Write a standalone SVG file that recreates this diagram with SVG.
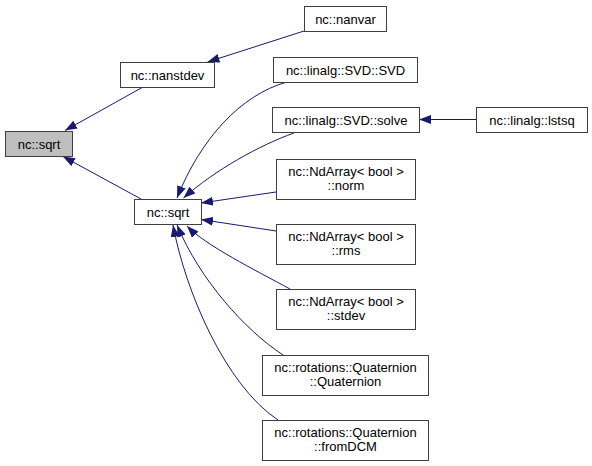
<svg xmlns="http://www.w3.org/2000/svg" width="592" height="466" viewBox="0 0 592 466">
<style>
.n rect{fill:#ffffff;stroke:#3f3f3f;stroke-width:1}
.n.cur rect{fill:#bfbfbf}
.n text{font-family:"Liberation Sans",Arial,sans-serif;font-size:13px;fill:#000000;text-anchor:middle}
.e path{fill:none;stroke:#191970;stroke-width:1;marker-end:url(#arr)}
</style>
<defs>
<marker id="arr" markerUnits="userSpaceOnUse" markerWidth="12" markerHeight="9" viewBox="0 0 12 9" refX="12" refY="4.5" orient="auto">
<path d="M0,0 L12,4.5 L0,9 z" fill="#191970"/>
</marker>
</defs>
<g id="edges" class="e">
<path d="M304,31 L207.5,62"/>
<path d="M143,87 L65,130.5"/>
<path d="M141,199 L63,156.5"/>
<path d="M287,82 C240,95 200,140 177,198"/>
<path d="M294,133 C260,145 215,170 183.5,198"/>
<path d="M276,192 L201,203"/>
<path d="M276,231 L201,219.5"/>
<path d="M290,289 C255,270 205,245 187,226"/>
<path d="M283,355 C245,330 200,280 177,225"/>
<path d="M278,420 C225,385 185,290 173,225"/>
<path d="M476,119.5 L419,119.5"/>
</g>
<g id="node_sqrt_main" class="n cur"><rect x="5.5" y="131.5" width="67" height="25"/><text x="39" y="148.5">nc::sqrt</text></g>
<g id="node_nanstdev" class="n"><rect x="120.5" y="62.5" width="94" height="25"/><text x="167.5" y="79.5">nc::nanstdev</text></g>
<g id="node_sqrt" class="n"><rect x="134.5" y="199.5" width="67" height="25"/><text x="168" y="216.5">nc::sqrt</text></g>
<g id="node_nanvar" class="n"><rect x="304.5" y="6.5" width="82" height="25"/><text x="345.5" y="23.5">nc::nanvar</text></g>
<g id="node_svd" class="n"><rect x="273.5" y="57.5" width="144" height="25"/><text x="345.5" y="74.5">nc::linalg::SVD::SVD</text></g>
<g id="node_solve" class="n"><rect x="272.5" y="107.5" width="147" height="25"/><text x="346" y="124.5">nc::linalg::SVD::solve</text></g>
<g id="node_lstsq" class="n"><rect x="476.5" y="107.5" width="111" height="25"/><text x="532" y="124.5">nc::linalg::lstsq</text></g>
<g id="node_norm" class="n"><rect x="276.5" y="159.5" width="139" height="40"/><text x="346" y="176">nc::NdArray&lt; bool &gt;</text><text x="346" y="189.5">::norm</text></g>
<g id="node_rms" class="n"><rect x="276.5" y="224.5" width="139" height="40"/><text x="346" y="241">nc::NdArray&lt; bool &gt;</text><text x="346" y="254.5">::rms</text></g>
<g id="node_stdev" class="n"><rect x="276.5" y="289.5" width="139" height="40"/><text x="346" y="306">nc::NdArray&lt; bool &gt;</text><text x="346" y="319.5">::stdev</text></g>
<g id="node_quaternion" class="n"><rect x="262.5" y="355.5" width="166" height="40"/><text x="345.5" y="372">nc::rotations::Quaternion</text><text x="345.5" y="385.5">::Quaternion</text></g>
<g id="node_fromdcm" class="n"><rect x="262.5" y="420.5" width="166" height="40"/><text x="345.5" y="437">nc::rotations::Quaternion</text><text x="345.5" y="450.5">::fromDCM</text></g>
</svg>
